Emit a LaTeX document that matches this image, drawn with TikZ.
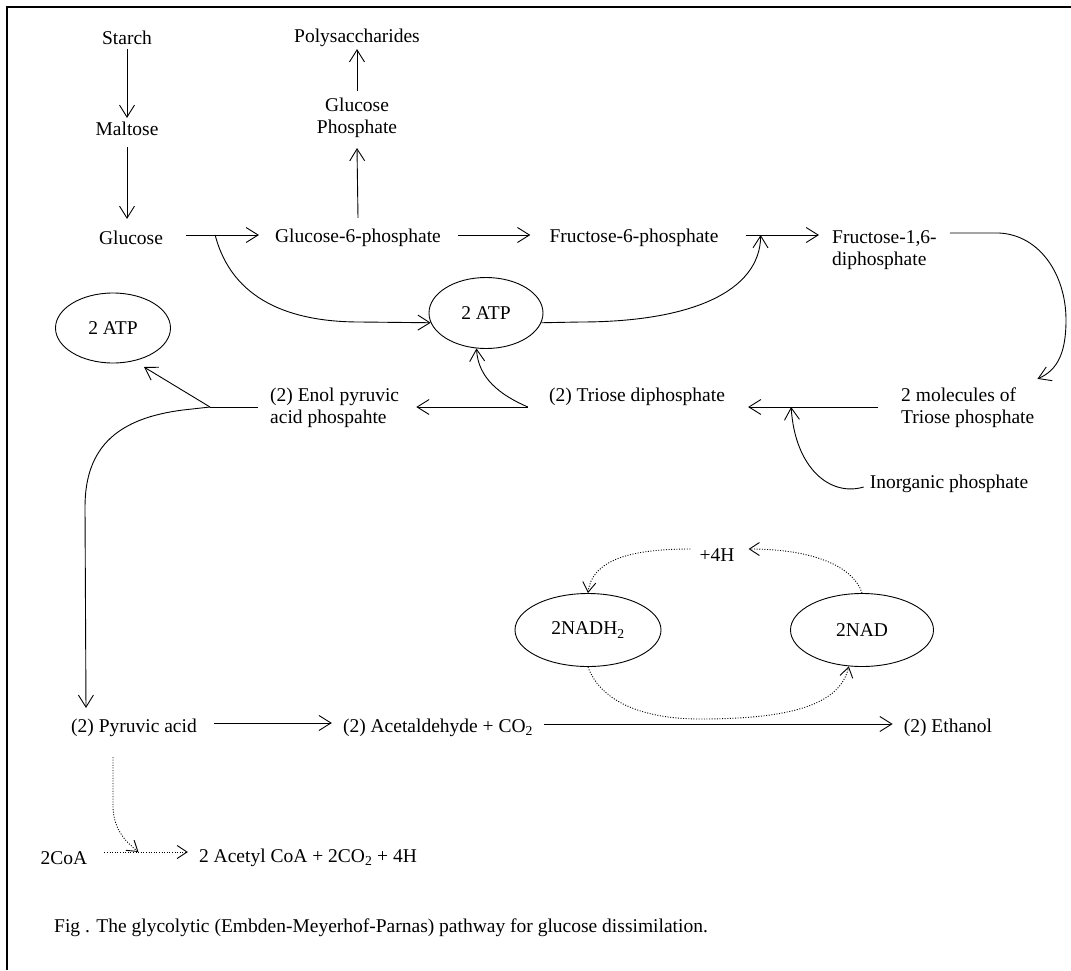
\documentclass[tikz,border=0pt]{standalone}
\usepackage{fontspec}
\setmainfont{Liberation Serif}
\usetikzlibrary{arrows.meta,shapes.geometric,calc}
\newcommand\myfs{\fontsize{19.5}{22}\selectfont}
\begin{document}
\begin{tikzpicture}[x=1pt,y=-1pt,
  every node/.style={font=\myfs, inner sep=1pt, text=black},
  ln/.style={line width=0.9pt},
  arr/.style={ln, -{Straight Barb[length=12pt,width=15pt]}},
  dotln/.style={line width=0.9pt, dash pattern=on 1pt off 1.6pt},
  darr/.style={dotln, -{Straight Barb[length=10pt,width=13pt]}},
  ell/.style={draw, ellipse, line width=0.9pt, inner sep=0pt}]
\fill[white] (0,0) rectangle (1071,970);
\useasboundingbox (0,0) rectangle (1071,970);
\draw[line width=2pt] (7,970) -- (7,7) -- (1071,7);

% nodes
\node (starch) at (127,38) {Starch};
\node (maltose) at (127,129) {Maltose};
\node (glucose) at (131,238) {Glucose};
\node (poly) at (357,38) {Polysaccharides};
\node[align=center] (gphos) at (357,118) {Glucose\\Phosphate};
\node (g6p) at (358,238) {Glucose-6-phosphate};
\node (f6p) at (634,238) {Fructose-6-phosphate};
\node[align=left, anchor=west] (f16) at (831,250) {Fructose-1,6-\\diphosphate};
\node[ell, minimum width=114pt, minimum height=71pt] (atpm) at (486,313) {2 ATP};
\node[ell, minimum width=115pt, minimum height=70pt] (atpl) at (113,328) {2 ATP};
\node (tdp) at (637,397) {(2) Triose diphosphate};
\node[align=left, anchor=west] (twomol) at (900,408) {2 molecules of\\Triose phosphate};
\node (inorg) at (949,484) {Inorganic phosphate};
\node[align=left, anchor=west] (enol) at (269,408) {(2) Enol pyruvic\\acid phospahte};
\node (pyr) at (134,728) {(2) Pyruvic acid};
\node (acet) at (438,728) {(2) Acetaldehyde + CO\textsubscript{2}};
\node (eth) at (948,728) {(2) Ethanol};
\node[ell, minimum width=146pt, minimum height=73pt] (nadh) at (588,630) {2NADH\textsubscript{2}};
\node[ell, minimum width=143pt, minimum height=73pt] (nad) at (862,630) {2NAD};
\node (fourh) at (717,555) {+4H};
\node (coa) at (64,858) {2CoA};
\node (acetyl) at (308,858) {2 Acetyl CoA + 2CO\textsubscript{2} + 4H};
\node[anchor=west] (cap) at (53,928) {Fig . The glycolytic (Embden-Meyerhof-Parnas) pathway for glucose dissimilation.};

% junction coordinates
\coordinate (jg) at ($(glucose.east)+(51,-3)$);
\coordinate (jf) at ($(f6p.east)+(41,-3)$);
\coordinate (s1) at ($(f16.east)+(12,-17)$);
\coordinate (jt) at ($(tdp.west)+(-20,10)$);
\coordinate (jl) at ($(enol.west)+(-59,-1)$);
\coordinate (jc) at ($(coa.east)+(50,-6)$);

% top column
\draw[arr] ($(starch.south)+(0,3)$) -- ($(maltose.north)+(0,-3)$);
\draw[arr] ($(maltose.south)+(0,10)$) -- ($(maltose.south |- glucose.north)+(0,-11)$);
\draw[arr] ($(g6p.north)+(0,-10)$) -- ($(gphos.south)+(0,9)$);
\draw[arr] ($(gphos.north)+(0,-6)$) -- ($(poly.south)+(0,1)$);

% main row
\draw[arr] ($(glucose.east)+(22,-3)$) -- ($(g6p.west)+(-15,-3)$);
\draw[arr] ($(g6p.east)+(16,-3)$) -- ($(f6p.west)+(-18,-3)$);
\draw[arr] ($(f6p.east)+(26,-3)$) -- ($(f6p.east -| f16.west)+(-12,-3)$);
\draw[arr] (jg) .. controls (232,300) and (290,322) .. (360,322) -- (atpm.190);
\draw[arr] (atpm.350) -- (580,322) .. controls (690,322) and (760,292) .. (jf);

% right loop
\draw[arr] (s1) -- (999,233) .. controls (1040,235) and (1066,275) .. (1066,320)
  .. controls (1066,352) and (1058,370) .. ($(twomol.north east)+(2,-8)$);
\draw[arr] ($(twomol.west)+(-22,-1)$) -- ($(tdp.east)+(22,10)$);
\draw[arr] ($(inorg.west)+(-5,3)$) .. controls (830,497) and (795,468) .. ($(tdp.east)+(65,10)$);

% triose row
\draw[arr] (jt) -- ($(enol.east)+(16,-1)$);
\draw[arr] (jt) .. controls (500,395) and (478,378) .. (atpm.255);
\draw[ln] ($(enol.west)+(-11,-1)$) -- (jl);
\draw[arr] (jl) -- ($(atpl.center)+(31,39)$);
\draw[arr] (jl) -- ($(jl)+(-27,3)$) .. controls (120,418) and (85,445) .. (85,507)
  -- ($(pyr.north west)+(16,-10)$);

% bottom row
\draw[arr] ($(pyr.east)+(16,-5)$) -- ($(acet.west)+(-10,-5)$);
\draw[arr] ($(acet.east)+(10,-4)$) -- ($(eth.west)+(-10,-4)$);

% NAD cycle
\draw[darr] (nadh.south) .. controls (600,700) and (640,719) .. (700,719)
  .. controls (790,719) and (840,705) .. (nad.250);
\draw[darr] (nad.north) .. controls (855,570) and (820,549) .. ($(fourh.east)+(13,-6)$);
\draw[darr] ($(fourh.west)+(-8,-6)$) .. controls (630,549) and (592,560) .. (nadh.north);

% acetyl CoA
\draw[darr] ($(pyr.south)+(-21,19)$) -- ($(pyr.south)+(-21,70)$) .. controls (114,830) and (126,842) .. (jc);
\draw[darr] ($(coa.east)+(16,-6)$) -- ($(acetyl.west)+(-10,-6)$);
\end{tikzpicture}
\end{document}
